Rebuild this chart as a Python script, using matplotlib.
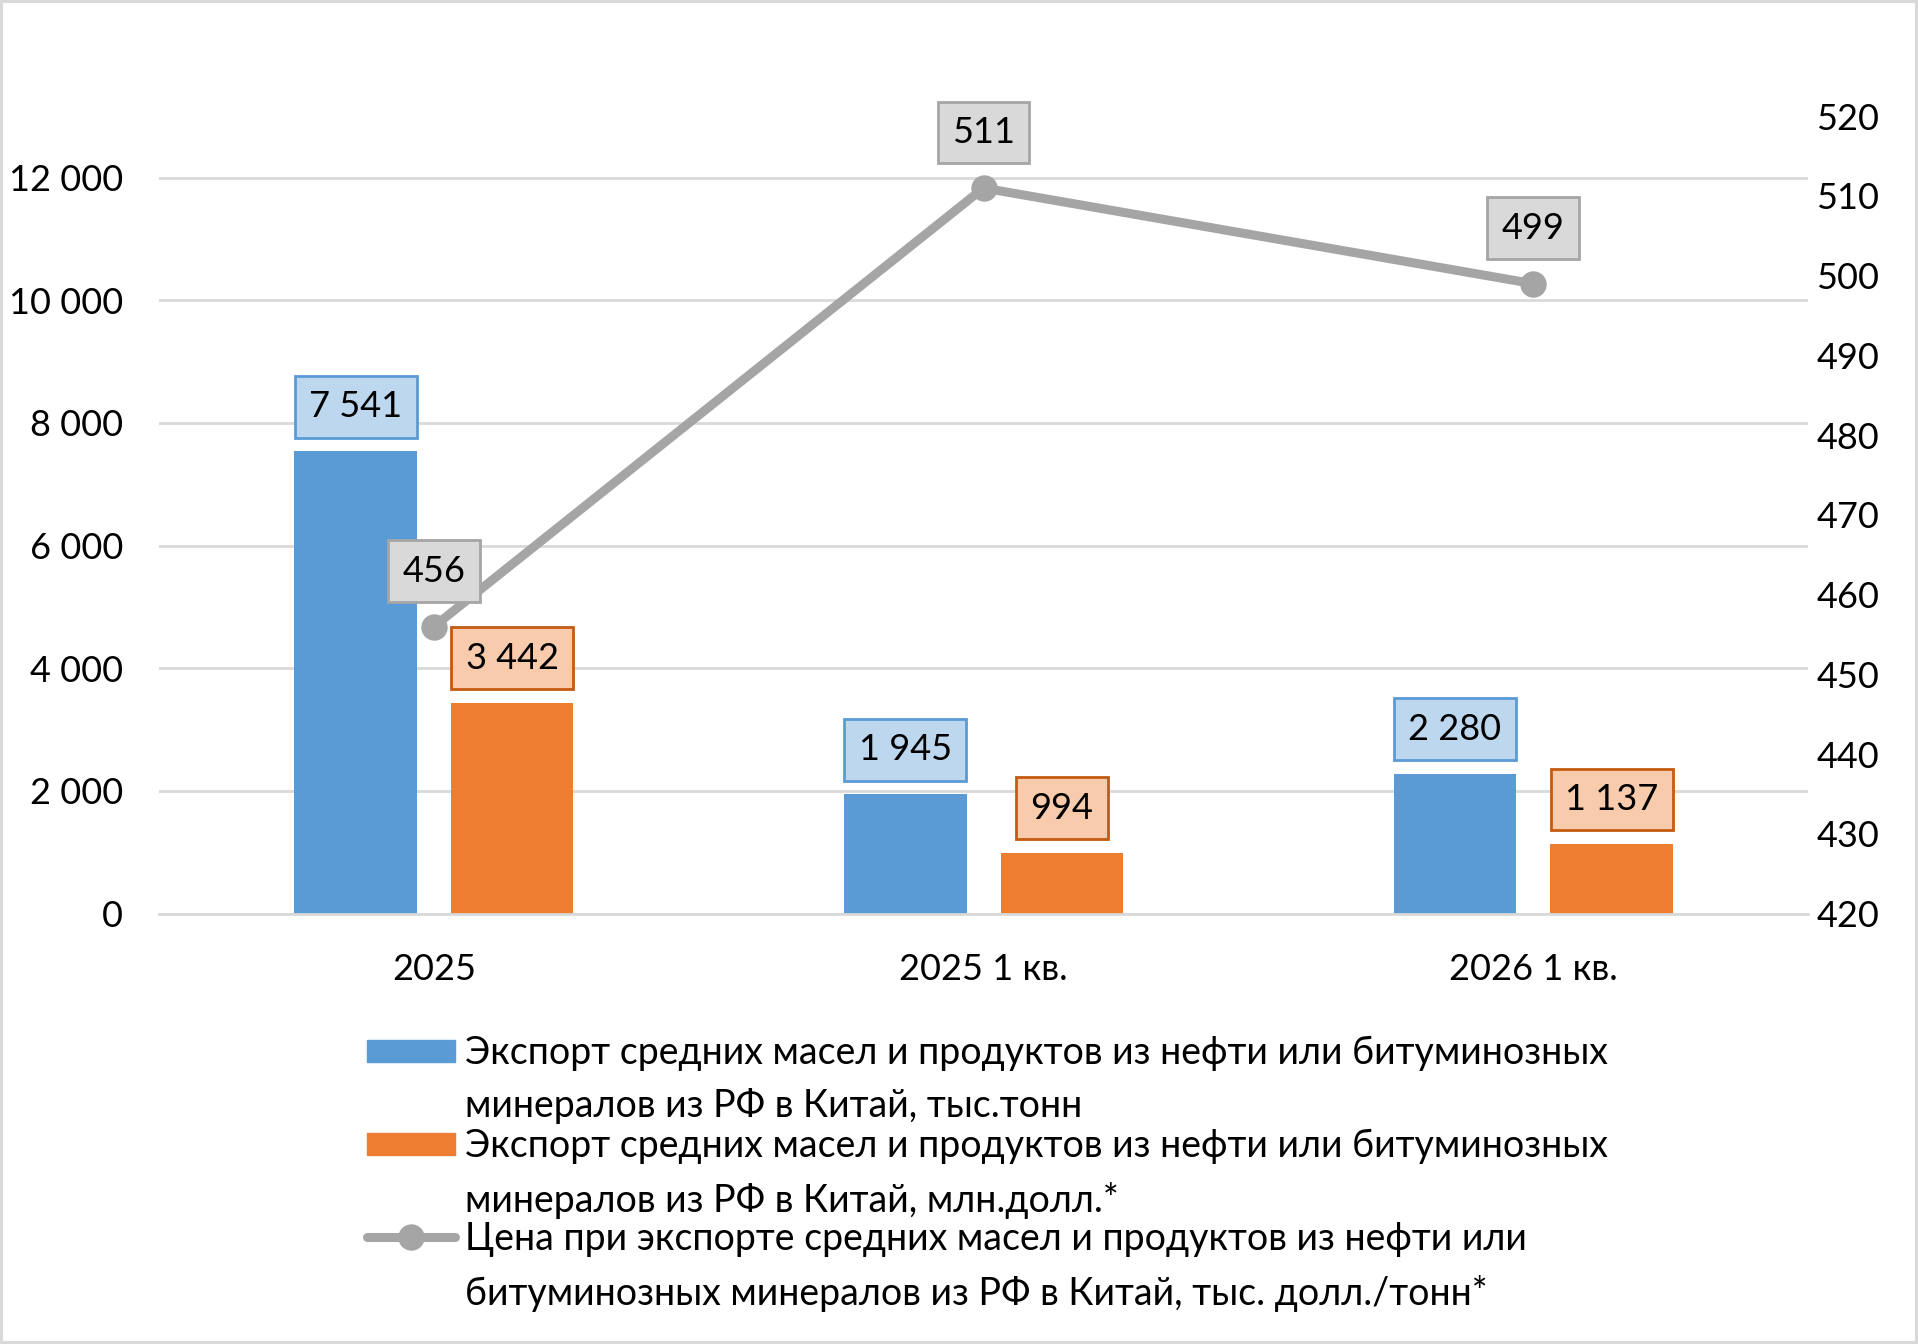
import matplotlib
matplotlib.use("Agg")
import matplotlib.pyplot as plt
from matplotlib.patches import Rectangle
from matplotlib.lines import Line2D

plt.rcParams['font.family'] = ['Lato', 'DejaVu Sans']

categories = ["2025", "2025 1 кв.", "2026 1 кв."]
volume_kt = [7541, 1945, 2280]
value_musd = [3442, 994, 1137]
price = [456, 511, 499]

legend_labels = [
    "Экспорт средних масел и продуктов из нефти или битуминозных\nминералов из РФ в Китай, тыс.тонн",
    "Экспорт средних масел и продуктов из нефти или битуминозных\nминералов из РФ в Китай, млн.долл.*",
    "Цена при экспорте средних масел и продуктов из нефти или\nбитуминозных минералов из РФ в Китай, тыс. долл./тонн*",
]

BLUE, ORANGE, GRAY = "#5B9BD5", "#ED7D31", "#A5A5A5"


def fmt(v):
    return f"{v:,}".replace(",", " ")


fig = plt.figure(figsize=(19.18, 13.44), dpi=100)
fig.patch.set_edgecolor("#D9D9D9")
fig.patch.set_linewidth(3)

ax = fig.add_axes([0.0829, 0.3202, 0.8598, 0.5933])
ax2 = ax.twinx()

x = list(range(len(categories)))
w = 0.223
off = 0.1425
xb = [i - off for i in x]
xo = [i + off for i in x]
ax.bar(xb, volume_kt, width=w, color=BLUE, zorder=2)
ax.bar(xo, value_musd, width=w, color=ORANGE, zorder=2)

ax.set_xlim(-0.5, 2.5)
ax.set_ylim(0, 13000)
ax.set_yticks(range(0, 12001, 2000))
ax.set_yticklabels([fmt(v) for v in range(0, 12001, 2000)])
ax.set_xticks(x)
ax.set_xticklabels(categories)
ax.yaxis.grid(True, color="#D9D9D9", linewidth=2)
ax.set_axisbelow(True)
for s in ["top", "left", "right"]:
    ax.spines[s].set_visible(False)
ax.spines["bottom"].set_color("#D9D9D9")
ax.spines["bottom"].set_linewidth(2)
ax.tick_params(axis="both", length=0, labelsize=26)
ax.tick_params(axis="y", pad=26)
ax.tick_params(axis="x", pad=28)

ax2.set_ylim(420, 520)
ax2.set_yticks(range(420, 521, 10))
ax2.tick_params(axis="y", length=0, labelsize=26, pad=6)
for s in ax2.spines.values():
    s.set_visible(False)
ax2.plot(x, price, color=GRAY, linewidth=6.5, marker="o", markersize=18,
         solid_capstyle="round", zorder=3)

for xi, v in zip(xb, volume_kt):
    ax.annotate(fmt(v), (xi, v), xytext=(0, 32), textcoords="offset points",
                ha="center", va="center", fontsize=26, zorder=5,
                bbox=dict(boxstyle="square,pad=0.4", fc="#BDD7EE", ec=BLUE, lw=2))
for xi, v in zip(xo, value_musd):
    ax.annotate(fmt(v), (xi, v), xytext=(0, 32), textcoords="offset points",
                ha="center", va="center", fontsize=26, zorder=5,
                bbox=dict(boxstyle="square,pad=0.4", fc="#F8CBAD", ec="#C55A11", lw=2))
for xi, v in zip(x, price):
    ax2.annotate(str(v), (xi, v), xytext=(0, 40), textcoords="offset points",
                 ha="center", va="center", fontsize=26, zorder=5,
                 bbox=dict(boxstyle="square,pad=0.4", fc="#D9D9D9", ec=GRAY, lw=2))

# legend, drawn by hand to keep handles level with the first text line
W, H = 1918, 1344
rows = [1051, 1144, 1237]
for i, (lbl, y) in enumerate(zip(legend_labels, rows)):
    yf = 1 - y / H
    if i < 2:
        fig.add_artist(Rectangle((367 / W, yf - 11 / H), 88 / W, 22 / H,
                                 transform=fig.transFigure,
                                 color=[BLUE, ORANGE][i]))
    else:
        fig.add_artist(Line2D([367 / W, 455 / W], [yf, yf], transform=fig.transFigure,
                              color=GRAY, linewidth=6.5, solid_capstyle="round"))
        fig.add_artist(Line2D([411 / W], [yf], transform=fig.transFigure,
                              color=GRAY, marker="o", markersize=18))
    fig.text(465 / W, yf + 16 / H, lbl, ha="left", va="top", fontsize=27,
             linespacing=1.6, transform=fig.transFigure)

fig.savefig("out.png", dpi=100)
